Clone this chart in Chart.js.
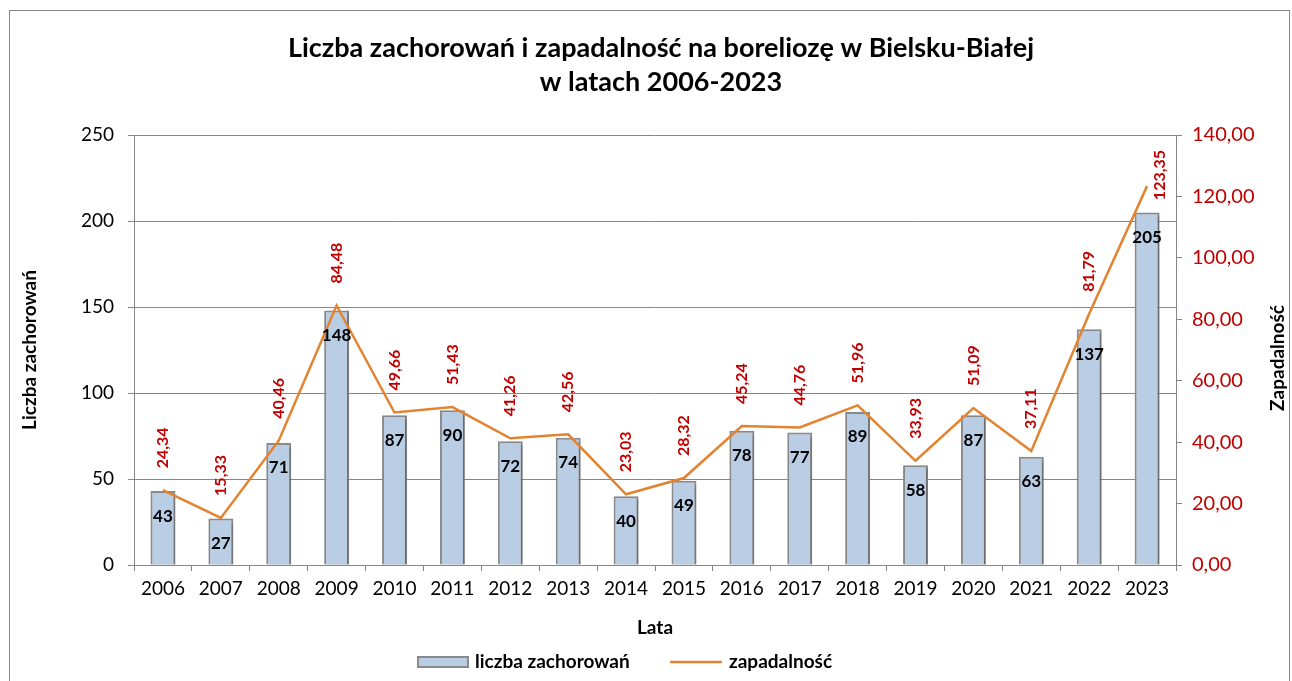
<!DOCTYPE html>
<html>
<head>
<meta charset="utf-8">
<script src="https://cdn.jsdelivr.net/npm/chart.js@4.4.0/dist/chart.umd.min.js"></script>
<style>
    html, body { margin: 0; padding: 0; background: #fff; }
    #wrap { width: 1292px; height: 681px; position: relative; }
</style>
</head>
<body>
<div id="wrap"><canvas id="graph"></canvas></div>
<script>
// data
const years = ['2006', '2007', '2008', '2009', '2010', '2011', '2012', '2013', '2014',
    '2015', '2016', '2017', '2018', '2019', '2020', '2021', '2022', '2023'];
const cases = [43, 27, 71, 148, 87, 90, 72, 74, 40, 49, 78, 77, 89, 58, 87, 63, 137, 205];
const incidence = [24.34, 15.33, 40.46, 84.48, 49.66, 51.43, 41.26, 42.56, 23.03, 28.32,
    45.24, 44.76, 51.96, 33.93, 51.09, 37.11, 81.79, 123.35];
const titleLines = ['Liczba zachorowań i zapadalność na boreliozę w Bielsku-Białej', 'w latach 2006-2023'];

const FONT = 'Lato, "Open Sans", sans-serif';
const GRID = '#868686';
const RED = '#c00000';
const ORANGE = '#e3832f';
const BAR_FILL = '#b9cde5';
const BAR_LINE = '#8a8a8a';

function fmt(v) {
    return v.toFixed(2).replace('.', ',');
}

// draws frame, titles, legend and value labels
const decorations = {
    id: 'decorations',
    beforeDraw(chart) {
        const ctx = chart.ctx;
        ctx.save();
        ctx.fillStyle = '#fff';
        ctx.fillRect(0, 0, chart.width, chart.height);
        ctx.strokeStyle = GRID;
        ctx.lineWidth = 1;
        ctx.strokeRect(9.5, 10.5, 1280, 700);
        ctx.restore();
    },
    beforeDatasetDraw(chart, args) {
        if (args.index !== 0) return;
        const ctx = chart.ctx;
        ctx.save();
        ctx.shadowColor = 'rgba(0,0,0,0.28)';
        ctx.shadowOffsetX = 2;
        ctx.shadowOffsetY = 2;
        ctx.shadowBlur = 3;
    },
    afterDatasetDraw(chart, args) {
        if (args.index !== 0) return;
        chart.ctx.restore();
    },
    afterDraw(chart) {
        const ctx = chart.ctx;
        const area = chart.chartArea;
        ctx.save();

        // title
        ctx.fillStyle = '#000';
        ctx.font = 'bold 27px ' + FONT;
        ctx.textAlign = 'center';
        ctx.textBaseline = 'middle';
        ctx.fillText(titleLines[0], 661, 48);
        ctx.fillText(titleLines[1], 661, 82);

        // axis titles
        ctx.font = 'bold 19px ' + FONT;
        ctx.fillText('Lata', 655, 628);

        ctx.save();
        ctx.translate(30, 350);
        ctx.rotate(-Math.PI / 2);
        ctx.fillText('Liczba zachorowań', 0, 0);
        ctx.restore();

        ctx.save();
        ctx.translate(1278, 358);
        ctx.rotate(-Math.PI / 2);
        ctx.fillText('Zapadalność', 0, 0);
        ctx.restore();

        // bar value labels
        const barMeta = chart.getDatasetMeta(0);
        ctx.font = 'bold 17px ' + FONT;
        ctx.fillStyle = '#000';
        barMeta.data.forEach(function (bar, i) {
            ctx.fillText(String(cases[i]), bar.x, bar.y + 25);
        });

        // line value labels, rotated
        const lineMeta = chart.getDatasetMeta(1);
        ctx.font = 'bold 16px ' + FONT;
        ctx.fillStyle = RED;
        lineMeta.data.forEach(function (pt, i) {
            const txt = fmt(incidence[i]);
            const w = ctx.measureText(txt).width;
            let bottom = pt.y - 22;
            let x = pt.x;
            if (bottom - w < area.top + 15) { // no room above, push right
                bottom = area.top + 15 + w;
                x += 13;
            }
            ctx.save();
            ctx.translate(x, bottom);
            ctx.rotate(-Math.PI / 2);
            ctx.textAlign = 'left';
            ctx.fillText(txt, 0, 0);
            ctx.restore();
        });

        // legend
        const ly = 662;
        ctx.font = 'bold 19px ' + FONT;
        ctx.textAlign = 'left';
        ctx.fillStyle = BAR_FILL;
        ctx.fillRect(418, ly - 5, 50, 10);
        ctx.strokeStyle = BAR_LINE;
        ctx.lineWidth = 2;
        ctx.strokeRect(418, ly - 5, 50, 10);
        ctx.fillStyle = '#000';
        ctx.fillText('liczba zachorowań', 475, ly);

        ctx.strokeStyle = ORANGE;
        ctx.lineWidth = 2.5;
        ctx.beginPath();
        ctx.moveTo(670, ly);
        ctx.lineTo(722, ly);
        ctx.stroke();
        ctx.fillText('zapadalność', 729, ly);

        ctx.restore();
    }
};

const graphCtx = document.getElementById('graph').getContext('2d');

const chart = new Chart(graphCtx, {
    type: 'bar',
    data: {
        labels: years,
        datasets: [
            {
                type: 'bar',
                label: 'liczba zachorowań',
                data: cases,
                yAxisID: 'y',
                backgroundColor: BAR_FILL,
                borderColor: BAR_LINE,
                borderWidth: 2,
                categoryPercentage: 1,
                barPercentage: 0.43,
                order: 2
            },
            {
                type: 'line',
                label: 'zapadalność',
                data: incidence,
                yAxisID: 'y1',
                borderColor: ORANGE,
                borderWidth: 2.5,
                pointRadius: 0,
                tension: 0,
                fill: false,
                order: 1
            }
        ]
    },
    options: {
        responsive: true,
        maintainAspectRatio: false,
        animation: false,
        events: [],
        layout: {
            padding: {top: 135, left: 0, right: 36, bottom: 76}
        },
        plugins: {
            legend: {display: false},
            title: {display: false},
            tooltip: {enabled: false}
        },
        scales: {
            x: {
                offset: true,
                grid: {
                    offset: true,
                    drawOnChartArea: false,
                    drawTicks: true,
                    tickLength: 6,
                    color: GRID
                },
                border: {display: true, color: GRID, width: 1},
                ticks: {
                    color: '#000',
                    font: {family: FONT, size: 19},
                    padding: 6,
                    maxRotation: 0,
                    autoSkip: false
                },
                afterFit(scale) {
                    scale.height = 40;
                }
            },
            y: {
                position: 'left',
                min: 0,
                max: 250,
                grid: {
                    color: GRID,
                    lineWidth: 1,
                    tickLength: 6
                },
                border: {display: true, color: GRID, width: 1},
                ticks: {
                    stepSize: 50,
                    color: '#000',
                    font: {family: FONT, size: 19},
                    padding: 14
                },
                afterFit(scale) {
                    scale.width = 134;
                }
            },
            y1: {
                position: 'right',
                min: 0,
                max: 140,
                grid: {
                    drawOnChartArea: false,
                    drawTicks: true,
                    tickLength: 6,
                    color: GRID
                },
                border: {display: true, color: GRID, width: 1},
                ticks: {
                    stepSize: 20,
                    color: RED,
                    font: {family: FONT, size: 20},
                    padding: 10,
                    callback: function (v) {
                        return fmt(v);
                    }
                },
                afterFit(scale) {
                    scale.width = 80;
                }
            }
        }
    },
    plugins: [decorations]
});
</script>
</body>
</html>
